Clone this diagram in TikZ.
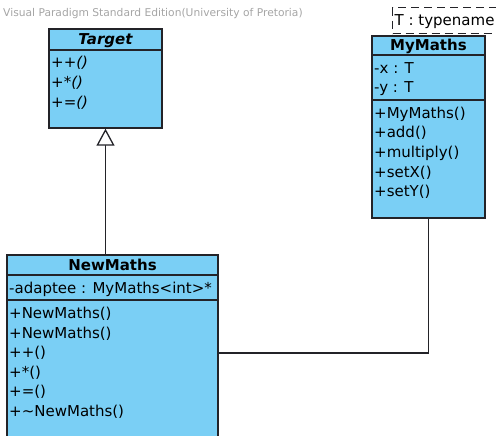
\documentclass[tikz,border=0pt]{standalone}
\usepackage{fontspec}
\setmainfont{DejaVu Sans}
\usetikzlibrary{arrows.meta}
\definecolor{umlblue}{RGB}{122,207,245}
\definecolor{umlline}{RGB}{35,35,40}
\definecolor{wmgray}{RGB}{165,165,165}

\begin{document}
\begin{tikzpicture}[x=1pt,y=-1pt,
    box/.style={draw=umlline, fill=umlblue, line width=1.4pt, inner sep=0pt},
    param/.style={draw=umlline, fill=white, dashed, dash pattern=on 8pt off 5pt, line width=1.2pt, inner sep=0pt},
    title/.style={font=\fontsize{15}{18}\selectfont\bfseries, anchor=base, inner sep=0pt},
    ittitle/.style={title, font=\fontsize{15}{18}\selectfont\bfseries\itshape},
    item/.style={font=\fontsize{15}{18}\selectfont, anchor=base west, inner sep=0pt},
    ititem/.style={item, font=\fontsize{15}{18}\selectfont\itshape},
    sep/.style={draw=umlline, line width=1.4pt},
    gen/.style={draw=umlline, line width=1.3pt, -{Triangle[open, length=17pt, width=18pt, fill=white]}},
    assoc/.style={draw=umlline, line width=1.3pt}
]
    \useasboundingbox (0,0) rectangle (496,436);
    \clip (0,0) rectangle (496,436);

    %Vannmerke
        \node[font=\fontsize{10.7}{12}\selectfont, text=wmgray, anchor=base west, inner sep=0pt] (vpnote) at (3,17) {Visual Paradigm Standard Edition(University of Pretoria)};

    %Target
        \node[box, minimum width=113pt, minimum height=99pt] (target) at (105.5,78.5) {};
        \draw[sep] (target.west |- 0,50) -- (target.east |- 0,50);
        \node[ittitle] (targettitle) at (105.5,44.5) {Target};
        \node[ititem] (tplus) at (51,68) {++()};
        \node[ititem] (ttimes) at (51,88) {+*()};
        \node[ititem] (tassign) at (51,107) {+=()};

    %MyMaths
        \node[param, anchor=north west, minimum width=130pt, minimum height=26pt] (tparam) at (392,7) {};
        \node[item] (tparamtext) at (394.5,26) {T : typename};
        \node[box, minimum width=113pt, minimum height=182pt] (mymaths) at (428.5,127) {};
        \draw[sep] (mymaths.west |- 0,55) -- (mymaths.east |- 0,55);
        \draw[sep] (mymaths.west |- 0,100) -- (mymaths.east |- 0,100);
        \node[title] (mymathstitle) at (428.5,50.5) {MyMaths};
        \node[item] (mx) at (374,73.5) {-x : T};
        \node[item] (my) at (374,93) {-y : T};
        \node[item] (mctor) at (374,118) {+MyMaths()};
        \node[item] (madd) at (374,138) {+add()};
        \node[item] (mmul) at (374,157.5) {+multiply()};
        \node[item] (msetx) at (374,177) {+setX()};
        \node[item] (msety) at (374,196.5) {+setY()};

    %NewMaths
        \node[box, minimum width=211pt, minimum height=196pt] (newmaths) at (112.5,353) {};
        \draw[sep] (newmaths.west |- 0,275) -- (newmaths.east |- 0,275);
        \draw[sep] (newmaths.west |- 0,300) -- (newmaths.east |- 0,300);
        \node[title] (newmathstitle) at (112.5,270.5) {NewMaths};
        \node[item] (nadaptee) at (9,293) {-adaptee : MyMaths<int>*};
        \node[item] (nctora) at (9,318) {+NewMaths()};
        \node[item] (nctorb) at (9,338) {+NewMaths()};
        \node[item] (nplus) at (9,357) {++()};
        \node[item] (ntimes) at (9,377) {+*()};
        \node[item] (nassign) at (9,396.5) {+=()};
        \node[item] (ndtor) at (9,416) {+\textasciitilde NewMaths()};

    %Piler
        \draw[gen] (newmaths.north -| target.south) -- (target.south);
        \draw[assoc] (mymaths.south) |- (newmaths.east);
\end{tikzpicture}
\end{document}
